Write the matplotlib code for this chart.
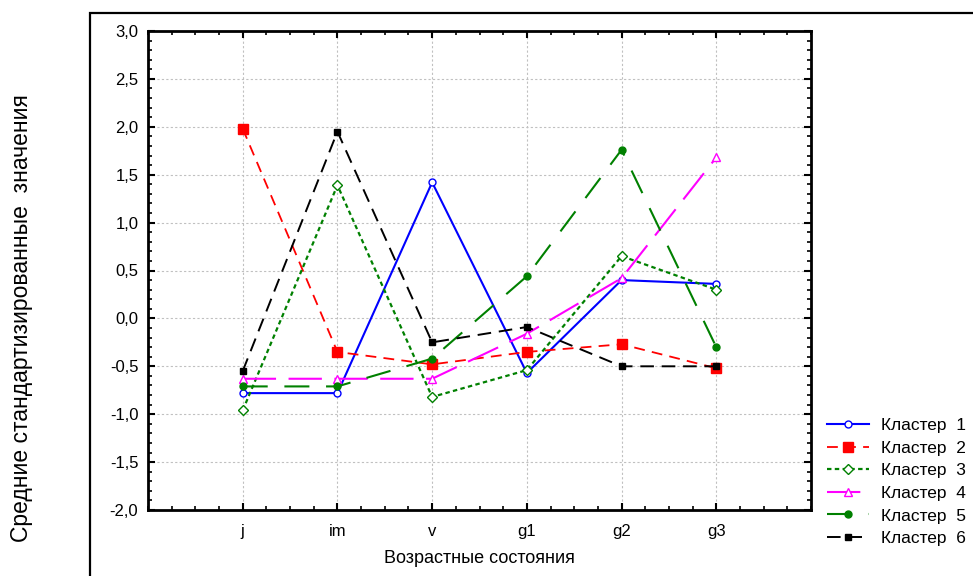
import matplotlib
matplotlib.use("Agg")
import matplotlib.pyplot as plt
import matplotlib.ticker as tkr
from matplotlib.patches import Rectangle

plt.rcParams['font.family'] = ['Liberation Sans', 'DejaVu Sans']

states = ['j', 'im', 'v', 'g1', 'g2', 'g3']
cluster1 = [-0.78, -0.78, 1.42, -0.57, 0.40, 0.36]
cluster2 = [1.98, -0.35, -0.48, -0.35, -0.27, -0.52]
cluster3 = [-0.96, 1.39, -0.82, -0.54, 0.65, 0.30]
cluster4 = [-0.63, -0.63, -0.63, -0.16, 0.42, 1.68]
cluster5 = [-0.71, -0.71, -0.42, 0.44, 1.76, -0.30]
cluster6 = [-0.55, 1.95, -0.25, -0.09, -0.50, -0.50]
labels = ['Кластер  1', 'Кластер  2', 'Кластер  3', 'Кластер  4', 'Кластер  5', 'Кластер  6']

fig = plt.figure(figsize=(9.73, 5.76), dpi=100)
ax = fig.add_axes([148 / 973, 1 - 510 / 576, (811 - 148) / 973, (510 - 31) / 576])

x = range(len(states))
ax.plot(x, cluster1, color='blue', lw=1.5, ls='-', marker='o', ms=5,
        mfc='white', mec='blue', label=labels[0])
ax.plot(x, cluster2, color='red', lw=1.3, ls=(0, (6, 4)), marker='s', ms=7,
        mfc='red', mec='red', label=labels[1])
ax.plot(x, cluster3, color='green', lw=1.6, ls=(0, (2, 1.5)), marker='D', ms=5,
        mfc='white', mec='green', label=labels[2])
ax.plot(x, cluster4, color='magenta', lw=1.5, ls=(0, (16, 6)), marker='^', ms=6,
        mfc='white', mec='magenta', label=labels[3])
ax.plot(x, cluster5, color='green', lw=1.5, ls=(0, (12, 8)), marker='o', ms=5,
        mfc='green', mec='green', label=labels[4])
ax.plot(x, cluster6, color='black', lw=1.4, ls=(0, (7, 4)), marker='s', ms=5,
        mfc='black', mec='black', label=labels[5])

ax.set_xlim(-1, 6)
ax.set_ylim(-2.0, 3.0)
ax.set_xticks(list(x))
ax.set_xticklabels(states)
ax.xaxis.set_minor_locator(tkr.MultipleLocator(0.25))
ax.yaxis.set_major_locator(tkr.MultipleLocator(0.5))
ax.yaxis.set_minor_locator(tkr.MultipleLocator(0.1))
ax.yaxis.set_major_formatter(tkr.FuncFormatter(lambda v, p: f'{v:.1f}'.replace('.', ',')))

ax.tick_params(which='both', direction='in', top=True, right=True, labelsize=12)
ax.tick_params(which='major', length=5, width=1.5, pad=7)
ax.tick_params(axis='x', which='major', pad=10)
ax.tick_params(which='minor', length=3, width=1.2)
for s in ax.spines.values():
    s.set_linewidth(2)

ax.grid(True, which='major', color='#c0c0c0', ls=(0, (2, 2)), lw=0.8)
ax.set_axisbelow(True)

ax.set_xlabel('Возрастные состояния', fontsize=13, labelpad=8)
fig.text(22 / 973, 1 - 318 / 576, 'Средние стандартизированные  значения',
         rotation=90, ha='center', va='center', fontsize=16.5)

fig.patches.append(Rectangle((90 / 973, -0.05), 1.0, 1 - 13 / 576 + 0.05,
                             transform=fig.transFigure, fill=False,
                             edgecolor='black', lw=1.6))

fig.legend(loc='upper left', bbox_to_anchor=(820 / 973, 1 - 411 / 576),
           frameon=False, fontsize=12.5, handlelength=2.4, handletextpad=0.7,
           labelspacing=0.43, borderaxespad=0)

fig.savefig('out.png', dpi=100)
